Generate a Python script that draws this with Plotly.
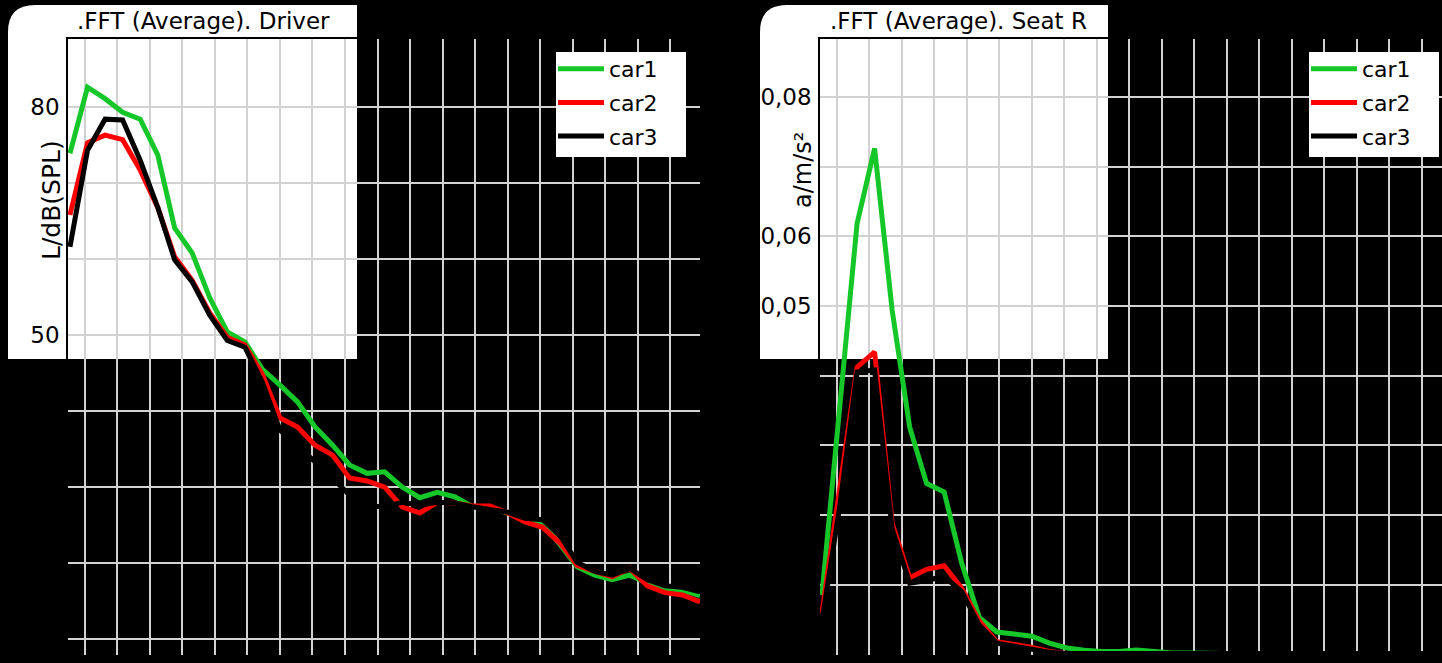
import plotly.graph_objects as go

W, H = 1442, 663

# ---- data ----
freq = [2.7, 5.4, 8.1, 10.8, 13.5, 16.2, 18.8, 21.5, 24.2, 26.9, 29.6, 32.3, 35.0, 37.7,
        40.4, 43.1, 45.7, 48.4, 51.1, 53.8, 56.5, 59.2, 61.9, 64.6, 67.3, 70.0, 72.7,
        75.4, 78.1, 80.7, 83.4, 86.1, 88.8, 91.5, 94.2, 96.9, 99.6]

driver_car1 = [73.9, 82.6, 81.1, 79.3, 78.4, 73.7, 64.1, 60.8, 54.9, 50.4, 49.1, 45.5, 43.4,
               41.2, 37.9, 35.5, 32.9, 31.8, 32.0, 30.0, 28.6, 29.3, 28.7, 27.4, 27.4, 26.6,
               25.7, 25.4, 22.4, 19.5, 18.4, 17.8, 18.4, 17.4, 16.7, 16.4, 15.7]
driver_car2 = [65.8, 75.3, 76.3, 75.7, 71.7, 66.8, 60.3, 57.2, 52.9, 49.7, 48.7, 44.8, 39.1,
               37.9, 35.5, 34.2, 31.2, 30.8, 30.0, 27.4, 26.6, 28.0, 27.9, 27.5, 27.5, 26.6,
               25.4, 24.7, 22.6, 19.7, 18.9, 18.2, 19.3, 17.0, 16.1, 15.8, 14.9]
driver_car3 = [61.6, 74.3, 78.4, 78.3, 73.0, 66.8, 59.9, 57.0, 52.6, 49.3, 48.4, 43.8, 37.5,
               35.5, 33.3, 31.2, 28.9, 27.5, 27.4, 28.0, 27.6, 28.0, 27.9, 27.4, 27.1, 26.7,
               25.9, 25.7, 23.6, 20.1, 18.9, 18.4, 19.3, 17.8, 17.0, 16.8, 16.2]

seat_car1 = [0.0085, 0.0345, 0.0618, 0.0726, 0.0494, 0.0326, 0.0245, 0.0233, 0.0131, 0.0053,
             0.0032, 0.0029, 0.0026, 0.0016, 0.0009, 0.0006, 0.0004, 0.0004, 0.0006, 0.0004,
             0.0002, 0.0002, 0.0001, 0.0001, 0.0001, 0.0001, 0.0001, 0.0001, 0.0001, 0.0001,
             0.0001, 0.0001, 0.0001, 0.0001, 0.0001, 0.0001, 0.0001]
seat_car2 = [0.0059, 0.0230, 0.0412, 0.0434, 0.0188, 0.0110, 0.0122, 0.0127, 0.0095, 0.0048,
             0.0018, 0.0014, 0.0010, 0.0004, 0.0001, 0.0001, 0.0001, 0.0001, 0.0001, 0.0001,
             0.0002, 0.0001, 0.0001, 0.0001, 0.0001, 0.0001, 0.0001, 0.0001, 0.0001, 0.0001,
             0.0001, 0.0001, 0.0001, 0.0001, 0.0001, 0.0001, 0.0001]
seat_car3 = [0.0048, 0.0210, 0.0405, 0.0408, 0.0180, 0.0102, 0.0106, 0.0112, 0.0090, 0.0042,
             0.0016, 0.0012, 0.0008, 0.0003, 0.0001, 0.0001, 0.0001, 0.0001, 0.0001, 0.0001,
             0.0001, 0.0001, 0.0001, 0.0001, 0.0001, 0.0001, 0.0001, 0.0001, 0.0001, 0.0001,
             0.0001, 0.0001, 0.0001, 0.0001, 0.0001, 0.0001, 0.0001]

series_names = ["car1", "car2", "car3"]
series_colors = ["#16c72a", "#ff0000", "#000000"]

driver_ticks = [10, 20, 30, 40, 50, 60, 70, 80]
driver_ticktext = ["", "", "", "", "50", "", "", "80"]
seat_ticks = [0, 0.01, 0.02, 0.03, 0.04, 0.05, 0.06, 0.07, 0.08]
seat_ticktext = ["", "", "", "", "", "0,05", "0,06", "", "0,08"]

FONT = "DejaVu Sans, sans-serif"

fig = go.Figure()

for name, col, ys in zip(series_names, series_colors, [driver_car1, driver_car2, driver_car3]):
    fig.add_trace(go.Scatter(x=freq, y=ys, mode="lines", name=name, legend="legend",
                             legendgroup="d" + name, line=dict(color=col, width=5),
                             xaxis="x", yaxis="y"))
for name, col, ys in zip(series_names, series_colors, [seat_car1, seat_car2, seat_car3]):
    fig.add_trace(go.Scatter(x=freq, y=ys, mode="lines", name=name, legend="legend2",
                             legendgroup="s" + name, line=dict(color=col, width=5),
                             xaxis="x2", yaxis="y2"))


def px(x):
    return x / W


def py(y):
    return 1 - y / H


def white_box(x0, x1, yt, yb, r=27):
    X0, X1, YT, YB = px(x0), px(x1), py(yt), py(yb)
    rx, ry = r / W, r / H
    return dict(type="path", xref="paper", yref="paper", layer="below",
                path=f"M {X0},{YB} L {X0},{YT - ry} Q {X0},{YT} {X0 + rx},{YT} "
                     f"L {X1},{YT} L {X1},{YB} Z",
                fillcolor="white", line=dict(width=0))


def legend_box(x0, x1, yt, yb):
    return dict(type="rect", xref="paper", yref="paper", layer="above",
                x0=px(x0), x1=px(x1), y0=py(yb), y1=py(yt),
                fillcolor="white", line=dict(width=0))


grid = dict(showgrid=True, gridcolor="#d2d2d2", gridwidth=2, zeroline=False,
            showline=True, linecolor="black", linewidth=1.5, mirror=True,
            ticks="", automargin=False)

ydom = [py(655), py(39)]
tickfont = dict(size=23, family=FONT, color="black")
legfont = dict(size=22, family=FONT, color="black")
txtfont = dict(size=23, family=FONT, color="black")

fig.update_layout(
    width=W, height=H,
    margin=dict(l=0, r=0, t=0, b=0, pad=0),
    paper_bgcolor="black",
    plot_bgcolor="rgba(0,0,0,0)",
    font=dict(family=FONT, color="black", size=20),
    xaxis=dict(domain=[px(68), px(700)], range=[2.4, 99.6], tick0=0, dtick=5,
               showticklabels=False, anchor="y", **grid),
    yaxis=dict(domain=ydom, range=[7.9, 88.95], tickvals=driver_ticks,
               ticktext=driver_ticktext, tickfont=tickfont,
               ticklabelstandoff=2, anchor="x", **grid),
    xaxis2=dict(domain=[px(820), 1.0], range=[2.4, 98.1], tick0=0, dtick=5,
                showticklabels=False, anchor="y2", **grid),
    yaxis2=dict(domain=ydom, range=[-0.0001, 0.0883], tickvals=seat_ticks,
                ticktext=seat_ticktext, tickfont=tickfont,
                ticklabelstandoff=2, anchor="x2", **grid),
    legend=dict(x=px(553), y=py(48), xanchor="left", yanchor="top",
                bgcolor="rgba(0,0,0,0)", font=legfont, tracegroupgap=2,
                itemwidth=46, borderwidth=0),
    legend2=dict(x=px(1306), y=py(48), xanchor="left", yanchor="top",
                 bgcolor="rgba(0,0,0,0)", font=legfont, tracegroupgap=2,
                 itemwidth=46, borderwidth=0),
    shapes=[white_box(8, 357, 5, 359), white_box(760, 1108, 5, 359),
            legend_box(556, 686, 52, 157), legend_box(1309, 1439, 52, 157)],
    annotations=[
        dict(text=".FFT (Average). Driver", x=px(75), y=py(21), xref="paper", yref="paper",
             xanchor="left", yanchor="middle", showarrow=False, font=txtfont),
        dict(text=".FFT (Average). Seat R", x=px(828), y=py(21), xref="paper", yref="paper",
             xanchor="left", yanchor="middle", showarrow=False, font=txtfont),
        dict(text="L/dB(SPL)", x=px(51), y=py(200), xref="paper", yref="paper",
             xanchor="center", yanchor="middle", textangle=-90, showarrow=False,
             font=dict(size=25, family=FONT, color="black")),
        dict(text="a/m/s²", x=px(803), y=py(170), xref="paper", yref="paper",
             xanchor="center", yanchor="middle", textangle=-90, showarrow=False,
             font=dict(size=24, family=FONT, color="black")),
    ],
)

fig.write_html("out.html", config={"displayModeBar": False},
               post_script="document.body.style.margin='0px';")
